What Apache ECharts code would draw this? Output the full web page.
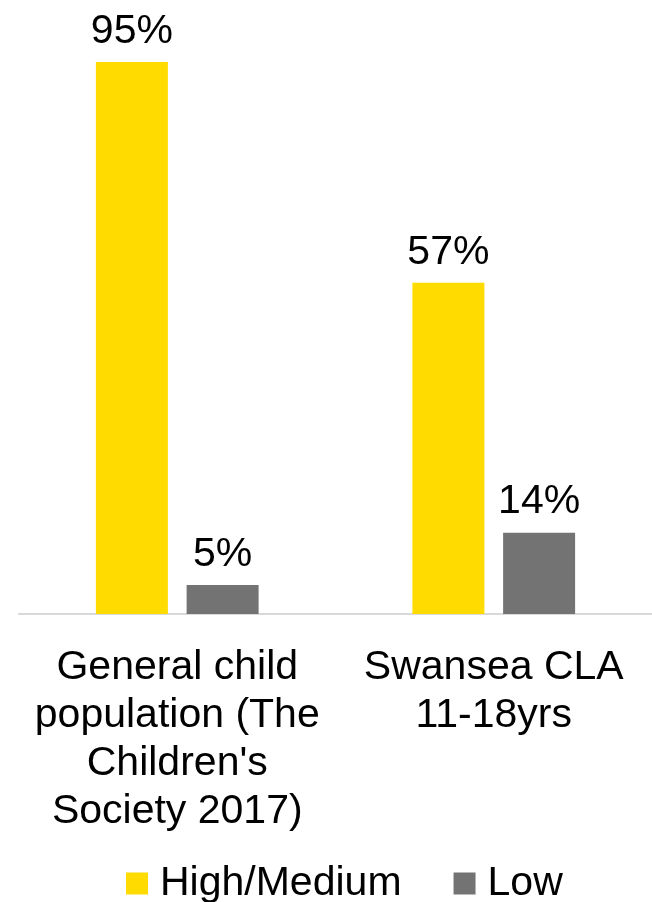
<!DOCTYPE html>
<html>
<head>
<meta charset="utf-8">
<style>
  html, body { margin: 0; padding: 0; background: #ffffff; }
  #chart { width: 652px; height: 902px; }
</style>
<script src="https://cdn.jsdelivr.net/npm/echarts@6/dist/echarts.min.js"></script>
</head>
<body>
<div id="chart"></div>
<script>
// Categories on the x axis
const categories = [
  "General child\npopulation (The\nChildren's\nSociety 2017)",
  "Swansea CLA\n11-18yrs"
];

// Series names and values (percent)
const seriesNames = ["High/Medium", "Low"];
const highMedium = [95, 57];
const low = [5, 14];

const FONT = "'Liberation Sans', Arial, sans-serif";

const chart = echarts.init(document.getElementById('chart'), null, { renderer: 'canvas' });

const labelStyle = {
  show: true,
  position: 'top',
  distance: 10,
  formatter: p => p.value + '%',
  color: '#000000',
  fontSize: 41,
  fontFamily: FONT
};

chart.setOption({
  animation: false,
  backgroundColor: '#ffffff',
  grid: { left: 19, right: -7, top: 33, bottom: 288, containLabel: false },
  legend: {
    left: 121,
    top: 858,
    itemWidth: 22,
    itemHeight: 22,
    itemGap: 52,
    icon: 'rect',
    textStyle: {
      color: '#000000',
      fontSize: 41,
      fontFamily: FONT,
      padding: [0, 0, 0, 7]
    },
    data: seriesNames
  },
  xAxis: {
    type: 'category',
    data: categories,
    axisLine: { show: true, lineStyle: { color: '#d9d9d9', width: 2 } },
    axisTick: { show: false },
    axisLabel: {
      color: '#000000',
      fontSize: 41,
      fontFamily: FONT,
      lineHeight: 48,
      margin: 30,
      interval: 0,
      align: 'center'
    }
  },
  yAxis: {
    type: 'value',
    min: 0,
    max: 100,
    show: false,
    splitLine: { show: false }
  },
  series: [
    {
      name: seriesNames[0],
      type: 'bar',
      data: highMedium,
      barWidth: 72,
      barGap: '26%',
      itemStyle: { color: '#FFDB00' },
      label: labelStyle
    },
    {
      name: seriesNames[1],
      type: 'bar',
      data: low,
      barWidth: 72,
      itemStyle: { color: '#737373' },
      label: labelStyle
    }
  ]
});
</script>
</body>
</html>
